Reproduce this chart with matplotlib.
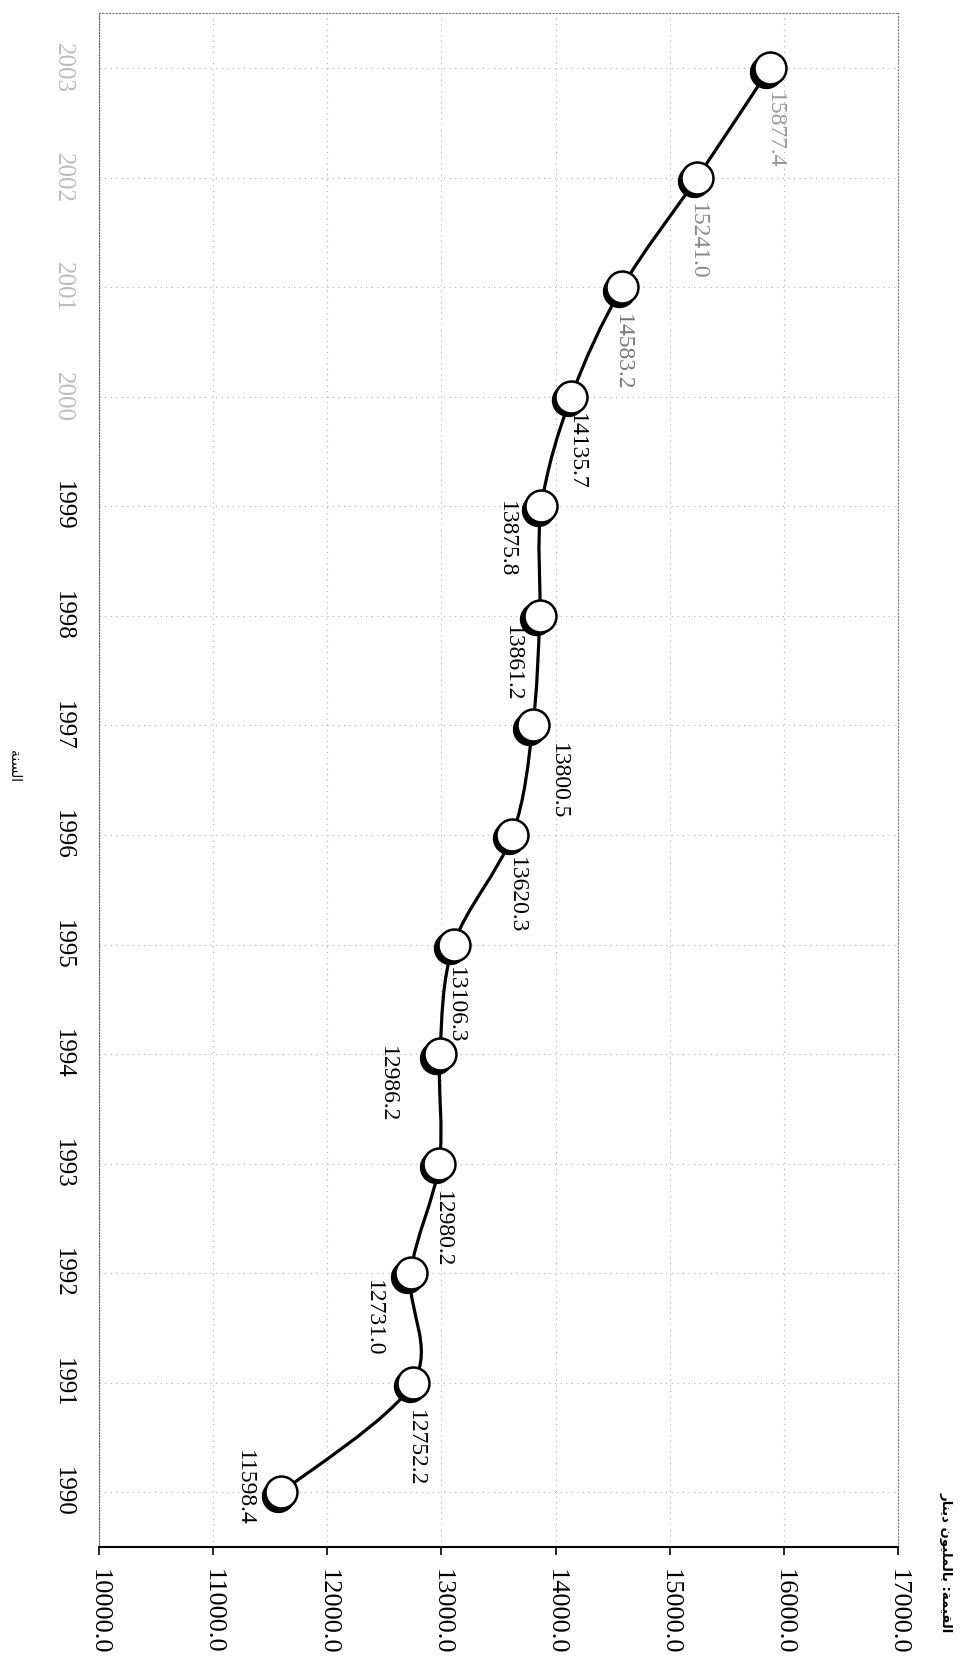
import matplotlib
matplotlib.use('Agg')
import matplotlib.pyplot as plt
from matplotlib.path import Path
from matplotlib.patches import PathPatch
from matplotlib.transforms import ScaledTranslation
import numpy as np

# data
years = ['1990', '1991', '1992', '1993', '1994', '1995', '1996',
         '1997', '1998', '1999', '2000', '2001', '2002', '2003']
values = [11598.4, 12752.2, 12731.0, 12980.2, 12986.2, 13106.3, 13620.3,
          13800.5, 13861.2, 13875.8, 14135.7, 14583.2, 15241.0, 15877.4]
value_ticks = [10000, 11000, 12000, 13000, 14000, 15000, 16000, 17000]
title_ar = 'القيمة: بالمليون دينار'
year_title_ar = 'السنة'

# label placement (pixels, x right / y down) relative to each marker
label_offsets = [(-37, -4), (2, 65), (-37, 45), (3, 66), (-52, 30), (2, 61), (4, 60),
                 (26, 56), (-27, 47), (-35, 33), (5, 55), (0, 65), (0, 64), (5, 62)]
label_colors = ['black'] * 11 + ['#777777', '#888888', '#999999']

# simple arabic shaping (matplotlib has no text shaping): isol, final, init, medial
forms = {
    'ا': ('\ufe8d', '\ufe8e', None, None),
    'ل': ('\ufedd', '\ufede', '\ufedf', '\ufee0'),
    'ق': ('\ufed5', '\ufed6', '\ufed7', '\ufed8'),
    'ي': ('\ufef1', '\ufef2', '\ufef3', '\ufef4'),
    'م': ('\ufee1', '\ufee2', '\ufee3', '\ufee4'),
    'ة': ('\ufe93', '\ufe94', None, None),
    'ب': ('\ufe8f', '\ufe90', '\ufe91', '\ufe92'),
    'و': ('\ufeed', '\ufeee', None, None),
    'ن': ('\ufee5', '\ufee6', '\ufee7', '\ufee8'),
    'د': ('\ufea9', '\ufeaa', None, None),
    'ر': ('\ufead', '\ufeae', None, None),
    'س': ('\ufeb1', '\ufeb2', '\ufeb3', '\ufeb4'),
}


def shape(text):
    out = []
    for i, ch in enumerate(text):
        if ch not in forms:
            out.append(ch)
            continue
        prev = text[i - 1] if i > 0 else ''
        nxt = text[i + 1] if i + 1 < len(text) else ''
        f = forms[ch]
        jp = prev in forms and forms[prev][2] is not None
        jn = f[2] is not None and nxt in forms
        if jp and jn:
            out.append(f[3])
        elif jp:
            out.append(f[1])
        elif jn:
            out.append(f[2])
        else:
            out.append(f[0])
    return ''.join(reversed(out))


serif = 'Liberation Serif'
fig = plt.figure(figsize=(9.65, 16.66), dpi=100)
ax = fig.add_axes([0.1026, 0.0714, 0.828, 0.9206])

pos = np.arange(len(years))
vals = np.array(values)

# smoothed line (catmull-rom as bezier)
pts = np.column_stack([vals, pos])
n = len(pts)
verts = [pts[0]]
codes = [Path.MOVETO]
for i in range(n - 1):
    p0 = pts[max(i - 1, 0)]
    p1 = pts[i]
    p2 = pts[i + 1]
    p3 = pts[min(i + 2, n - 1)]
    verts += [p1 + (p2 - p0) / 6, p2 - (p3 - p1) / 6, p2]
    codes += [Path.CURVE4] * 3
ax.add_patch(PathPatch(Path(verts, codes), fill=False, lw=2.3, ec='black', zorder=3))

# markers with a little shadow
shadow = ax.transData + ScaledTranslation(-2.5 / 72, -2.5 / 72, fig.dpi_scale_trans)
ax.plot(vals, pos, 'o', ms=23, mfc='black', mec='black', transform=shadow, zorder=4)
ax.plot(vals, pos, 'o', ms=23, mfc='white', mec='black', mew=1.8, zorder=5)

for i in range(n):
    dx, dy = label_offsets[i]
    ax.annotate(f'{values[i]:.1f}', (vals[i], pos[i]), xytext=(dx, -dy),
                textcoords='offset pixels', rotation=-90, ha='center', va='center',
                fontsize=17, family=serif, color=label_colors[i], zorder=6)

ax.set_xlim(10000, 17000)
ax.set_ylim(-0.5, len(years) - 0.5)
ax.set_xticks(value_ticks)
ax.set_xticklabels([f'{v:.1f}' for v in value_ticks], rotation=-90, family=serif,
                   fontsize=19, va='top', ha='center')
ax.set_yticks(pos)
ax.set_yticklabels(years, rotation=-90, family=serif, fontsize=18, va='center')
for i, t in enumerate(ax.get_yticklabels()):
    if i >= 10:
        t.set_color('#bbbbbb')
ax.tick_params(axis='x', direction='out', length=6, width=1.2, pad=10)
ax.tick_params(axis='y', length=0, pad=18)

ax.grid(True, color='#b0b0b0', lw=0.8, linestyle=(0, (1, 4)))
ax.set_axisbelow(True)
ax.spines['bottom'].set_linewidth(1.5)
ax.spines['left'].set_linestyle((0, (1, 1.5)))
ax.spines['left'].set_color('#555555')
for s in ['top', 'right']:
    ax.spines[s].set_linestyle((0, (1, 2)))
    ax.spines[s].set_color('#777777')

fig.text(0.980, 0.0624, shape(title_ar), rotation=-90, ha='center', va='center',
         fontsize=9.5, fontweight='bold', family='DejaVu Sans')
fig.text(0.014, 0.54, shape(year_title_ar), rotation=-90, ha='center', va='center',
         fontsize=10, family='DejaVu Sans')

fig.savefig('out.png', dpi=100)
